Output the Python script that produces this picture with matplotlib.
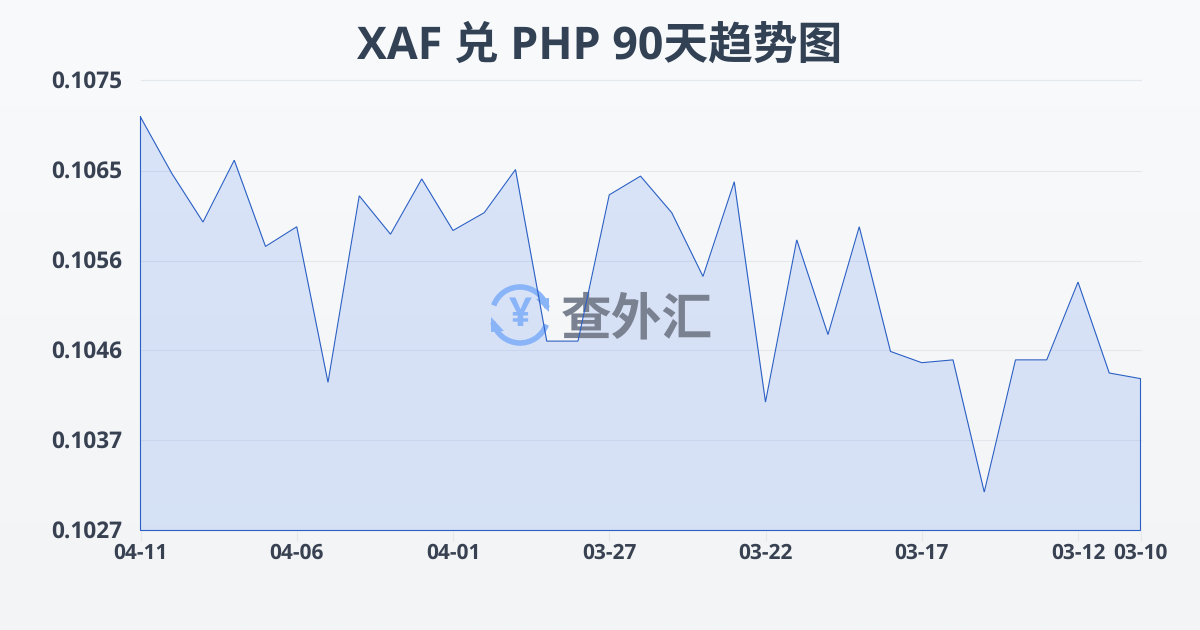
import numpy as np
import matplotlib
matplotlib.use("Agg")
import matplotlib.pyplot as plt
from matplotlib.patches import Arc, Polygon
from matplotlib.transforms import ScaledTranslation

plt.rcParams['font.family'] = ['Open Sans', 'Noto Sans CJK SC', 'DejaVu Sans']
plt.rcParams['text.hinting'] = 'none'

TITLE = "XAF 兑 PHP 90天趋势图"
WATERMARK = "查外汇"

# 04-11 -> 03-10, newest first
rates = [0.10711, 0.10651, 0.10599, 0.10665, 0.10573, 0.10594, 0.10428, 0.10627,
         0.10586, 0.10645, 0.10590, 0.10609, 0.10655, 0.10472, 0.10472, 0.10628,
         0.10648, 0.10609, 0.10541, 0.10642, 0.10407, 0.10580, 0.10479, 0.10594,
         0.10461, 0.10449, 0.10452, 0.10311, 0.10452, 0.10452, 0.10535, 0.10438,
         0.10432]
x_ticks = [0, 5, 10, 15, 20, 25, 30, 32]
x_labels = ["04-11", "04-06", "04-01", "03-27", "03-22", "03-17", "03-12", "03-10"]
y_ticks = [0.1027, 0.10366, 0.10462, 0.10558, 0.10654, 0.1075]
y_labels = ["0.1027", "0.1037", "0.1046", "0.1056", "0.1065", "0.1075"]

TEXT = "#374151"
LINE = "#2a5fc4"

fig = plt.figure(figsize=(12, 6.3), dpi=100)

# 背景グラデーション
bg = fig.add_axes([0, 0, 1, 1], zorder=0)
bg.imshow(np.linspace(0, 1, 256).reshape(-1, 1), aspect="auto", extent=(0, 1, 0, 1),
          cmap=matplotlib.colors.LinearSegmentedColormap.from_list("bg", ["#f8fafc", "#f3f4f6"]))
bg.axis("off")

ax = fig.add_axes([140.5 / 1200, 1 - 530.5 / 630, 1000 / 1200, 450 / 630], zorder=1)
ax.patch.set_alpha(0)
x = np.arange(len(rates))
ax.set_xlim(0, len(rates) - 1)
ax.set_ylim(y_ticks[0], y_ticks[-1])

ax.grid(axis="y", color="#e4e7ec", lw=0.8)
ax.set_axisbelow(True)
ax.fill_between(x, rates, y_ticks[0], color="#2f6fed", alpha=0.15, lw=0, zorder=2)

# 透かし
ax.text(420.5 / 1000, 0.465, WATERMARK, transform=ax.transAxes, ha="left", va="center",
        fontsize=36.5, fontweight="bold", color="#7a8292", zorder=3)
ov = fig.add_axes([0, 0, 1, 1], zorder=1.5)
ov.set_xlim(0, 1200)
ov.set_ylim(630, 0)
ov.axis("off")
ICON = "#8ab4f8"
cx, cy = 520, 315
ov.add_patch(Arc((cx, cy), 56, 56, theta1=20, theta2=165, color=ICON, lw=4))
ov.add_patch(Arc((cx, cy), 56, 56, theta1=200, theta2=345, color=ICON, lw=4))
ov.add_patch(Polygon([(491, 317), (491, 332), (504, 331)], color=ICON, lw=0))
ov.add_patch(Polygon([(549, 312), (549, 298), (536, 299)], color=ICON, lw=0))
ov.text(cx, cy + 1, "¥", ha="center", va="center", fontsize=29, fontweight="bold", color=ICON)

# 折れ線を透かしの上に
ax2 = fig.add_axes(ax.get_position(), zorder=2)
ax2.patch.set_alpha(0)
ax2.set_xlim(ax.get_xlim())
ax2.set_ylim(ax.get_ylim())
ax2.axis("off")
ax2.plot(np.r_[x, x[-1], x[0], x[0]], np.r_[rates, y_ticks[0], y_ticks[0], rates[0]],
         color=LINE, lw=0.8, clip_on=False, solid_joinstyle="miter")

ax.set_xticks(x_ticks)
ax.set_xticklabels(x_labels)
ax.set_yticks(y_ticks)
ax.set_yticklabels(y_labels)
for side in ax.spines:
    ax.spines[side].set_visible(False)
ax.tick_params(axis="x", length=7, width=0.8, color="#e4e7ec", pad=2, labelsize=15, labelcolor=TEXT)
ax.tick_params(axis="y", length=0, pad=13, labelsize=16.3, labelcolor=TEXT)
up = ScaledTranslation(0, 1.5 / 100, fig.dpi_scale_trans)
for lab in ax.get_xticklabels() + ax.get_yticklabels():
    lab.set_fontweight("bold")
for lab in ax.get_yticklabels():
    lab.set_transform(lab.get_transform() + up)
for gl in ax.get_ygridlines():
    gl.set_clip_on(False)

fig.text(600 / 1200, 1 - 47 / 630, TITLE, ha="center", va="center", fontsize=32.2,
         fontweight="bold", color="#334155")

fig.savefig("out.png", dpi=100)
